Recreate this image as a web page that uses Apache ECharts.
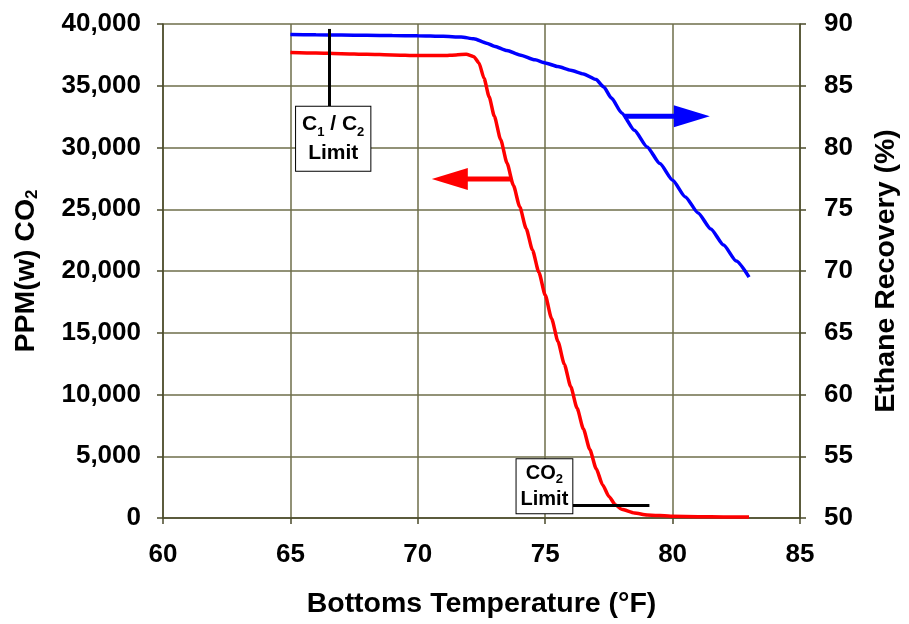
<!DOCTYPE html>
<html>
<head>
<meta charset="utf-8">
<script src="https://cdn.jsdelivr.net/npm/echarts@6/dist/echarts.min.js"></script>
<style>
  html, body { margin: 0; padding: 0; background: #fff; overflow: hidden; }
  #chart { width: 909px; height: 624px; }
</style>
</head>
<body>
<div id="chart"></div>
<script>
// ---- Data ----
// CO2 in bottoms product, PPM(w) (left axis)
const tempRed = [65, 66, 67, 68, 69, 70, 71, 71.5, 71.9, 72.2, 72.4, 72.6, 72.8, 73.0, 73.25, 73.5, 73.75, 74.0, 74.25, 74.5, 74.75, 75.0, 75.25, 75.5, 75.75, 76.0, 76.25, 76.5, 76.75, 77.0, 77.25, 77.5, 77.75, 78.0, 78.5, 79, 80, 81, 82, 83];
const co2Ppm  = [37700, 37650, 37600, 37550, 37500, 37450, 37450, 37500, 37550, 37350, 36850, 35600, 34100, 32550, 30650, 28750, 26950, 25200, 23450, 21700, 19900, 18050, 16150, 14300, 12450, 10650, 8900, 7200, 5550, 4000, 2700, 1750, 1080, 700, 400, 250, 140, 110, 90, 80];

// Ethane recovery, % (right axis)
const tempBlue  = [65, 66, 67, 68, 69, 70, 71, 71.7, 72.2, 72.7, 73, 73.5, 74, 74.6, 75, 75.5, 76, 76.5, 77, 77.3, 77.6, 78, 78.5, 79, 79.5, 80, 80.5, 81, 81.5, 82, 82.5, 83];
const ethaneRec = [89.15, 89.12, 89.1, 89.08, 89.06, 89.05, 89.0, 88.95, 88.8, 88.45, 88.2, 87.85, 87.5, 87.1, 86.85, 86.55, 86.25, 85.95, 85.5, 84.9, 84.0, 82.8, 81.4, 80.05, 78.7, 77.35, 76.0, 74.7, 73.4, 72.1, 70.8, 69.5];

// Axis ticks
const xTicks = { min: 60, max: 85, step: 5 };
const yLeftTicks = { min: 0, max: 40000, step: 5000 };
const yRightTicks = { min: 50, max: 90, step: 5 };

// Annotations (data units)
const redArrow  = [73.7, 70.55, 27440];   // start x, tip x, ppm
const blueArrow = [78.1, 81.46, 82.54];   // start x, tip x, %
const c1c2Line  = [66.52, 39600, 33240];  // x, top ppm, bottom ppm
const c1c2Box   = [66.68, 30700];
const co2Line   = [76.03, 79.09, 1000];   // x start, x end, ppm
const co2Box    = [74.97, 2575];

// ---- Chart ----
const FONT = "'Liberation Sans', Arial, sans-serif";
const GRID_COLOR = '#6e6e4a';
const AXIS_COLOR = '#4a4a2a';

const chart = echarts.init(document.getElementById('chart'), null, { renderer: 'canvas' });

function renderArrow(params, api) {
  const p0 = api.coord([api.value(0), api.value(2)]);
  const p1 = api.coord([api.value(1), api.value(2)]);
  const dir = Math.sign(p1[0] - p0[0]);
  const headLen = 36, headHalf = 11;
  const baseX = p1[0] - dir * headLen;
  const color = api.visual('color');
  return {
    type: 'group',
    children: [
      { type: 'line', shape: { x1: p0[0], y1: p0[1], x2: baseX + dir * 2, y2: p1[1] },
        style: { stroke: color, lineWidth: 5 } },
      { type: 'polygon', shape: { points: [[p1[0], p1[1]], [baseX, p1[1] - headHalf], [baseX, p1[1] + headHalf]] },
        style: { fill: color } }
    ]
  };
}

const tickLabel = { fontSize: 26, fontWeight: 'bold', color: '#000', fontFamily: FONT };
const nameStyle = { fontSize: 28.5, fontWeight: 'bold', color: '#000', fontFamily: FONT };

chart.setOption({
  animation: false,
  backgroundColor: '#fff',
  grid: { left: 163, right: 99, top: 24, bottom: 103, containLabel: false },
  xAxis: {
    type: 'value', min: xTicks.min, max: xTicks.max, interval: xTicks.step,
    name: 'Bottoms Temperature (°F)', nameLocation: 'middle', nameGap: 72,
    nameTextStyle: nameStyle,
    axisLine: { show: true, lineStyle: { color: AXIS_COLOR, width: 1.5 } },
    axisTick: { show: true, length: 6, lineStyle: { color: AXIS_COLOR, width: 1.5 } },
    axisLabel: Object.assign({ margin: 24 }, tickLabel),
    splitLine: { show: true, lineStyle: { color: GRID_COLOR, width: 1.5 } }
  },
  yAxis: [
    {
      type: 'value', position: 'left', min: yLeftTicks.min, max: yLeftTicks.max, interval: yLeftTicks.step,
      name: 'PPM(w) CO{s|2}', nameLocation: 'middle', nameRotate: 90, nameGap: 122,
      nameTextStyle: Object.assign({}, nameStyle, {
        rich: {
          s: { fontSize: 17, fontWeight: 'bold', fontFamily: FONT, color: '#000', verticalAlign: 'bottom', lineHeight: 12 }
        }
      }),
      axisLine: { show: true, lineStyle: { color: AXIS_COLOR, width: 1.5 } },
      axisTick: { show: true, length: 6, lineStyle: { color: AXIS_COLOR, width: 1.5 } },
      axisLabel: Object.assign({ margin: 22, formatter: v => v.toLocaleString('en-US') }, tickLabel),
      splitLine: { show: true, lineStyle: { color: GRID_COLOR, width: 1.5 } }
    },
    {
      type: 'value', position: 'right', min: yRightTicks.min, max: yRightTicks.max, interval: yRightTicks.step,
      name: 'Ethane Recovery (%)', nameLocation: 'middle', nameRotate: 90, nameGap: 72,
      nameTextStyle: nameStyle,
      axisLine: { show: true, lineStyle: { color: AXIS_COLOR, width: 1.5 } },
      axisTick: { show: true, length: 6, lineStyle: { color: AXIS_COLOR, width: 1.5 } },
      axisLabel: Object.assign({ margin: 24 }, tickLabel),
      splitLine: { show: false }
    }
  ],
  series: [
    {
      type: 'line', name: 'CO2', yAxisIndex: 0,
      data: tempRed.map((t, i) => [t, co2Ppm[i]]),
      showSymbol: false, smooth: 0.2, smoothMonotone: 'x',
      lineStyle: { color: '#ff0000', width: 3.5 }, itemStyle: { color: '#ff0000' },
      z: 3,
      markLine: {
        silent: true, symbol: 'none', animation: false,
        label: { show: false },
        lineStyle: { color: '#000', width: 3, type: 'solid' },
        data: [
          [{ coord: [c1c2Line[0], c1c2Line[1]] }, { coord: [c1c2Line[0], c1c2Line[2]] }],
          [{ coord: [co2Line[0], co2Line[2]] }, { coord: [co2Line[1], co2Line[2]] }]
        ]
      },
      markPoint: {
        silent: true, symbol: 'circle', symbolSize: 1,
        itemStyle: { color: 'rgba(0,0,0,0)' },
        data: [
          {
            coord: c1c2Box,
            label: {
              show: true, position: 'inside',
              formatter: '{m|C}{s|1}{m| / C}{s|2}\n{m|Limit}',
              backgroundColor: '#fff', borderColor: '#000', borderWidth: 1, padding: [3, 6],
              rich: {
                m: { fontSize: 21, fontWeight: 'bold', fontFamily: FONT, color: '#000', lineHeight: 29 },
                s: { fontSize: 13, fontWeight: 'bold', fontFamily: FONT, color: '#000', lineHeight: 12, verticalAlign: 'bottom' }
              }
            }
          },
          {
            coord: co2Box,
            label: {
              show: true, position: 'inside',
              formatter: '{m|CO}{s|2}\n{m|Limit}',
              backgroundColor: '#fff', borderColor: '#000', borderWidth: 1, padding: [1, 4],
              rich: {
                m: { fontSize: 20, fontWeight: 'bold', fontFamily: FONT, color: '#000', lineHeight: 26 },
                s: { fontSize: 13, fontWeight: 'bold', fontFamily: FONT, color: '#000', lineHeight: 11, verticalAlign: 'bottom' }
              }
            }
          }
        ]
      }
    },
    {
      type: 'line', name: 'Ethane', yAxisIndex: 1,
      data: tempBlue.map((t, i) => [t, ethaneRec[i]]),
      showSymbol: false, smooth: 0.2, smoothMonotone: 'x',
      lineStyle: { color: '#0000ff', width: 3.5 }, itemStyle: { color: '#0000ff' },
      z: 3
    },
    {
      type: 'custom', yAxisIndex: 0, renderItem: renderArrow,
      itemStyle: { color: '#ff0000' },
      encode: { x: [0, 1], y: 2 },
      data: [redArrow], silent: true, z: 4
    },
    {
      type: 'custom', yAxisIndex: 1, renderItem: renderArrow,
      itemStyle: { color: '#0000ff' },
      encode: { x: [0, 1], y: 2 },
      data: [blueArrow], silent: true, z: 4
    }
  ]
});
</script>
</body>
</html>
